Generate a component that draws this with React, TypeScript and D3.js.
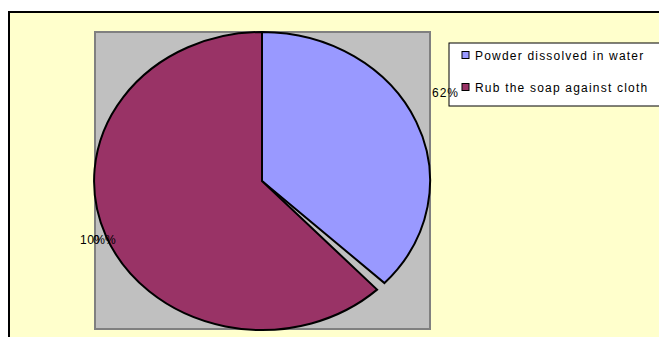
import React from "react";
import * as d3 from "d3";

const categories = ["Powder dissolved in water", "(gap)", "Rub the soap against cloth"];
const values = [37, 1, 62];
const colors = ["#9999FF", "none", "#993366"];
const legendItems = ["Powder dissolved in water", "Rub the soap against cloth"];
const legendColors = ["#9999FF", "#993366"];
const rightLabel = "62%";
const leftLabels = ["10%", "0 %"];

export default function App() {
  const W = 659, H = 337;
  const cx = 262, cy = 181, rx = 168, ry = 149;
  const pie = d3.pie<number>().sort(null).value((d) => d);
  const arcs = pie(values);
  const arc = d3.arc<d3.PieArcDatum<number>>().innerRadius(0).outerRadius(1);
  const font = "'Liberation Sans', Arial, sans-serif";
  return (
    <svg width={W} height={H} style={{ position: "absolute", left: 0, top: 0 }}>
      <rect x={0} y={0} width={W} height={H} fill="#fff" />
      <rect x={9} y={12} width={W + 10} height={H + 10} fill="#FFFFCC" stroke="#000" strokeWidth={2} />
      <rect x={95} y={32} width={335} height={297} fill="#C0C0C0" stroke="#808080" strokeWidth={2} />
      <g transform={`translate(${cx},${cy}) scale(${rx},${ry})`}>
        {arcs.map((a, i) =>
          colors[i] === "none" ? null : (
            <path key={i} d={arc(a) || ""} fill={colors[i]} stroke="#000" strokeWidth={2} vectorEffect="non-scaling-stroke" strokeLinejoin="miter" />
          )
        )}
      </g>
      <rect x={449} y={43} width={W} height={63} fill="#fff" stroke="#000" strokeWidth={1} />
      {legendItems.map((t, i) => (
        <g key={t} transform={`translate(0,${55 + i * 32})`}>
          <rect x={462} y={-3.5} width={7} height={7} fill={legendColors[i]} stroke="#000" strokeWidth={1} />
          <text x={475} y={4.5} fontFamily={font} fontSize={12} letterSpacing={1.2}>{t}</text>
        </g>
      ))}
      <text x={432} y={97} fontFamily={font} fontSize={12} letterSpacing={1}>{rightLabel}</text>
      <text x={80} y={244} fontFamily={font} fontSize={12} letterSpacing={0.5}>{leftLabels[0]}</text>
      <text x={93} y={244} fontFamily={font} fontSize={12} letterSpacing={1}>{leftLabels[1]}</text>
    </svg>
  );
}
